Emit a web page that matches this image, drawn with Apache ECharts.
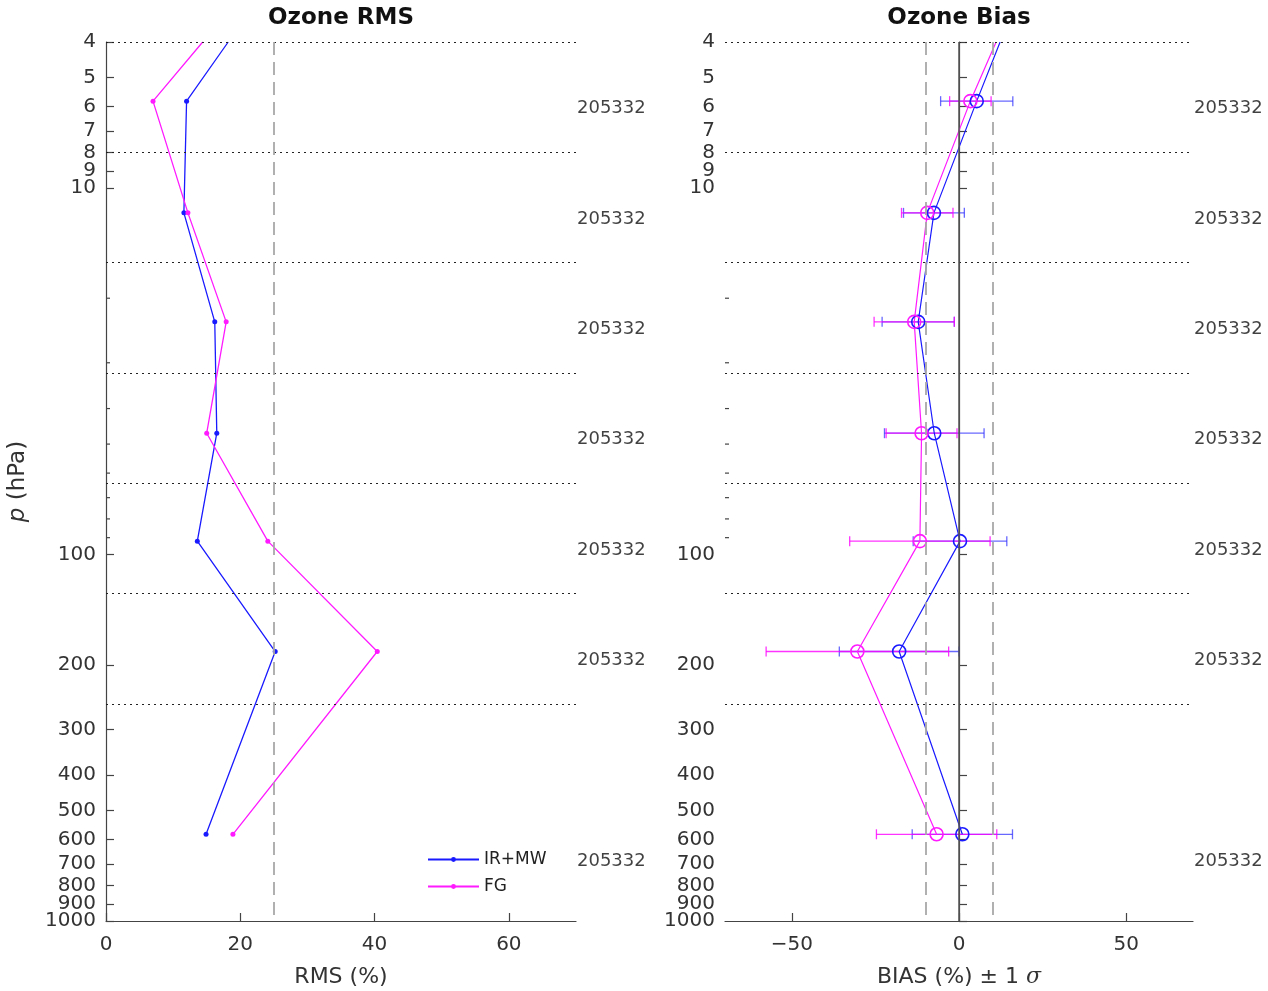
<!DOCTYPE html>
<html>
<head>
<meta charset="utf-8">
<script src="https://cdn.jsdelivr.net/npm/echarts@6.0.0/dist/echarts.min.js"></script>
<style>
  html, body { margin: 0; padding: 0; background: #fff; }
  #ozoneChart { width: 1268px; height: 991px; }
</style>
</head>
<body>
<div id="ozoneChart"></div>
<script>
// layer mean pressure (hPa); first entry is the top of the plot (line only, no marker)
const pressure = [4, 5.8, 11.7, 23.2, 46.7, 92, 184, 580];
const rmsIrMw = [18.2, 12.0, 11.6, 16.2, 16.5, 13.6, 25.2, 14.9];
const rmsFg = [14.4, 7.0, 12.2, 17.9, 15.0, 24.1, 40.4, 18.9];
const biasIrMw = [12.3, 5.3, -7.5, -12.2, -7.4, 0.3, -17.9, 1.0];
const biasFg = [11.1, 3.4, -9.5, -13.4, -11.2, -11.7, -30.4, -6.7];
const sdIrMw = [null, 10.8, 9.1, 10.8, 14.9, 14.0, 17.9, 15.0];
const sdFg = [null, 6.2, 7.7, 12.0, 10.6, 21.0, 27.3, 18.0];

// layer boundaries (dotted lines) and number of obs per layer
const layerBounds = [4, 8, 16, 32, 64, 128, 256];
const countPressure = [6, 12, 24, 48, 96, 192, 680];
const counts = [205332, 205332, 205332, 205332, 205332, 205332, 205332];

// 999.999 so the bottom tick survives the extent rounding; it is listed twice
// because echarts drops the last label (showMaxLabel: false) and 900/1000 overlap
const pLabels = [4, 5, 6, 7, 8, 9, 10, 100, 200, 300, 400, 500, 600, 700, 800, 900, 999.999, 999.999];
const pMinor = [20, 30, 40, 50, 60, 70, 80, 90];
const rmsTicks = [0, 20, 40, 60];
const biasTicks = [-50, 0, 50];
const rmsRange = [0, 70];
const biasRange = [-70, 70];

const BLUE = '#1a1aff';
const MAGENTA = '#ff1aff';
const FONT = 'DejaVu Sans';
const AXIS_COLOR = '#444';

function pairs(xs) {
  let out = [];
  for (let i = 0; i < pressure.length; i++) {
    if (xs[i] == null) continue;
    if (i === 0) {
      out.push({ value: [xs[i], pressure[i]], symbol: 'none' });
    } else {
      out.push([xs[i], pressure[i]]);
    }
  }
  return out;
}

function errorData(bias, sd) {
  let out = [];
  for (let i = 0; i < pressure.length; i++) {
    if (sd[i] == null) continue;
    out.push([bias[i] - sd[i], bias[i] + sd[i], pressure[i]]);
  }
  return out;
}

function errorBar(color) {
  return function (params, api) {
    let p = api.value(2);
    let a = api.coord([api.value(0), p]);
    let b = api.coord([api.value(1), p]);
    let h = 5;
    let style = { stroke: color, lineWidth: 1.3 };
    return {
      type: 'group',
      children: [
        { type: 'line', shape: { x1: a[0], y1: a[1], x2: b[0], y2: b[1] }, style: style },
        { type: 'line', shape: { x1: a[0], y1: a[1] - h, x2: a[0], y2: a[1] + h }, style: style },
        { type: 'line', shape: { x1: b[0], y1: b[1] - h, x2: b[0], y2: b[1] + h }, style: style }
      ]
    };
  };
}

// short minor ticks on the pressure axis (20..90 hPa)
function minorTicks(axisIndex, xMin) {
  return {
    type: 'custom',
    xAxisIndex: axisIndex,
    yAxisIndex: axisIndex,
    silent: true,
    clip: false,
    z: 10,
    encode: { x: 0, y: 1 },
    data: pMinor.map(function (p) { return [xMin, p]; }),
    renderItem: function (params, api) {
      let pt = api.coord([api.value(0), api.value(1)]);
      return {
        type: 'line',
        shape: { x1: pt[0], y1: pt[1], x2: pt[0] + 4, y2: pt[1] },
        style: { stroke: AXIS_COLOR, lineWidth: 1.2 }
      };
    }
  };
}

function dottedLines() {
  return layerBounds.map(function (p) {
    return { yAxis: p, lineStyle: { type: [2, 4], color: '#222', width: 1.2 } };
  });
}

function yAxis(gridIndex, withName) {
  let axis = {
    type: 'log',
    logBase: 10,
    gridIndex: gridIndex,
    min: 4,
    max: 1000,
    inverse: true,
    axisLine: { show: true, lineStyle: { color: AXIS_COLOR, width: 1.2 } },
    axisTick: { show: true, inside: true, length: 8, customValues: pLabels, lineStyle: { color: AXIS_COLOR, width: 1.2 } },
    axisLabel: {
      customValues: pLabels,
      showMinLabel: true,
      showMaxLabel: false,
      hideOverlap: false,
      margin: 10,
      fontSize: 20,
      fontFamily: FONT,
      color: '#333',
      formatter: function (v) { return String(Math.round(v)); }
    },
    splitLine: { show: false },
    minorTick: { show: false }
  };
  if (withName) {
    axis.name = '{i|p} (hPa)';
    axis.nameLocation = 'middle';
    axis.nameRotate = 90;
    axis.nameGap = 76;
    axis.nameTextStyle = {
      fontSize: 23, fontFamily: FONT, color: '#333',
      rich: { i: { fontSize: 23, fontStyle: 'italic', fontFamily: FONT, color: '#333' } }
    };
  }
  return axis;
}

function xAxis(gridIndex, range, ticks, name) {
  return {
    type: 'value',
    gridIndex: gridIndex,
    min: range[0],
    max: range[1],
    axisLine: { show: true, onZero: false, lineStyle: { color: AXIS_COLOR, width: 1.2 } },
    axisTick: { show: true, inside: true, length: 8, customValues: ticks, lineStyle: { color: AXIS_COLOR, width: 1.2 } },
    axisLabel: {
      customValues: ticks,
      margin: 14,
      fontSize: 20,
      fontFamily: FONT,
      color: '#333',
      formatter: function (v) { return v < 0 ? '\u2212' + (-v) : String(v); }
    },
    splitLine: { show: false },
    name: name,
    nameLocation: 'middle',
    nameGap: 45,
    nameTextStyle: {
      fontSize: 22, fontFamily: FONT, color: '#333',
      rich: { s: { fontSize: 22, fontStyle: 'italic', fontFamily: 'DejaVu Serif', color: '#333' } }
    }
  };
}

function countSeries(axisIndex, xPos) {
  return {
    type: 'scatter',
    xAxisIndex: axisIndex,
    yAxisIndex: axisIndex,
    symbolSize: 0,
    clip: false,
    silent: true,
    data: countPressure.map(function (p) { return [xPos, p]; }),
    label: {
      show: true,
      position: 'right',
      distance: 1,
      offset: [0, 2],
      fontSize: 18,
      fontFamily: FONT,
      color: '#111',
      formatter: function (params) { return String(counts[params.dataIndex]); }
    }
  };
}

let chart = echarts.init(document.getElementById('ozoneChart'), null, { renderer: 'canvas' });

chart.setOption({
  animation: false,
  backgroundColor: '#fff',
  title: [
    { text: 'Ozone RMS', left: 341, top: 7, padding: 0, textAlign: 'center',
      textStyle: { fontSize: 23, fontWeight: 'bold', fontFamily: FONT, color: '#111' } },
    { text: 'Ozone Bias', left: 959, top: 7, padding: 0, textAlign: 'center',
      textStyle: { fontSize: 23, fontWeight: 'bold', fontFamily: FONT, color: '#111' } }
  ],
  legend: {
    data: ['IR+MW', 'FG'],
    orient: 'vertical',
    left: 427,
    top: 851,
    itemWidth: 51,
    itemHeight: 6,
    itemGap: 10,
    padding: 0,
    textStyle: { fontSize: 17, fontFamily: FONT, color: '#222' }
  },
  grid: [
    { left: 106, top: 42, width: 470, height: 879, outerBoundsMode: 'none', containLabel: false },
    { left: 725, top: 42, width: 468, height: 879, outerBoundsMode: 'none', containLabel: false }
  ],
  xAxis: [
    xAxis(0, rmsRange, rmsTicks, 'RMS (%)'),
    xAxis(1, biasRange, biasTicks, 'BIAS (%) \u00b1 1 {s|\u03c3}')
  ],
  yAxis: [yAxis(0, true), yAxis(1, false)],
  series: [
    {
      name: 'IR+MW',
      type: 'line',
      xAxisIndex: 0,
      yAxisIndex: 0,
      data: pairs(rmsIrMw),
      symbol: 'circle',
      symbolSize: 5,
      color: BLUE,
      lineStyle: { color: BLUE, width: 1.3 },
      markLine: {
        silent: true,
        symbol: ['none', 'none'],
        label: { show: false },
        data: dottedLines().concat([
          { xAxis: 25, lineStyle: { type: [13, 7], color: '#a8a8a8', width: 1.8 } }
        ])
      }
    },
    {
      name: 'FG',
      type: 'line',
      xAxisIndex: 0,
      yAxisIndex: 0,
      data: pairs(rmsFg),
      symbol: 'circle',
      symbolSize: 5,
      color: MAGENTA,
      lineStyle: { color: MAGENTA, width: 1.3 }
    },
    countSeries(0, rmsRange[1]),
    minorTicks(0, rmsRange[0]),
    {
      name: 'IR+MW sd',
      type: 'custom',
      xAxisIndex: 1,
      yAxisIndex: 1,
      renderItem: errorBar('rgba(40,40,255,0.7)'),
      encode: { x: [0, 1], y: 2 },
      data: errorData(biasIrMw, sdIrMw),
      z: 3
    },
    {
      name: 'FG sd',
      type: 'custom',
      xAxisIndex: 1,
      yAxisIndex: 1,
      renderItem: errorBar('rgba(255,0,255,0.8)'),
      encode: { x: [0, 1], y: 2 },
      data: errorData(biasFg, sdFg),
      z: 3
    },
    {
      name: 'IR+MW bias',
      type: 'line',
      xAxisIndex: 1,
      yAxisIndex: 1,
      data: pairs(biasIrMw),
      symbol: 'circle',
      symbolSize: 13,
      itemStyle: { color: 'rgba(0,0,0,0)', borderColor: BLUE, borderWidth: 1.6 },
      lineStyle: { color: BLUE, width: 1.2 },
      z: 4,
      markLine: {
        silent: true,
        symbol: ['none', 'none'],
        label: { show: false },
        data: dottedLines().concat([
          { xAxis: -10, lineStyle: { type: [13, 7], color: '#a8a8a8', width: 1.8 } },
          { xAxis: 10, lineStyle: { type: [13, 7], color: '#a8a8a8', width: 1.8 } },
          { xAxis: 0, lineStyle: { type: 'solid', color: '#555', width: 1.5 } }
        ])
      }
    },
    {
      name: 'FG bias',
      type: 'line',
      xAxisIndex: 1,
      yAxisIndex: 1,
      data: pairs(biasFg),
      symbol: 'circle',
      symbolSize: 13,
      itemStyle: { color: 'rgba(0,0,0,0)', borderColor: MAGENTA, borderWidth: 1.6 },
      lineStyle: { color: MAGENTA, width: 1.2 },
      z: 4
    },
    countSeries(1, biasRange[1]),
    minorTicks(1, biasRange[0])
  ]
});

window.addEventListener('resize', () => {
  chart.resize();
});
</script>
</body>
</html>
